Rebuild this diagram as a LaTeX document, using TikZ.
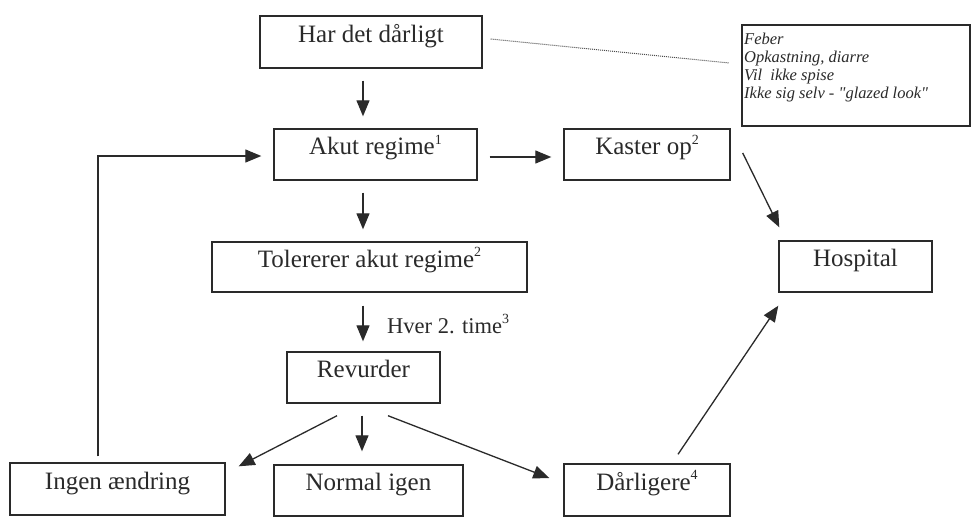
\documentclass[tikz,border=0pt]{standalone}
\usepackage{fontspec}
\setmainfont{Liberation Serif}
\newfontfamily\notefont[Ligatures=TeXOff]{Liberation Serif}
\usetikzlibrary{arrows.meta}
\definecolor{ink}{HTML}{2A2A2A}
\newcommand\sups[1]{\raisebox{0.42em}{\fontsize{14}{14}\selectfont #1}}
\begin{document}
\begin{tikzpicture}[x=1pt,y=-1pt,
  box/.style={draw=ink,line width=1.4pt,inner sep=0pt,text=ink,
    text height=9pt,text depth=9pt,font=\fontsize{25}{28}\selectfont},
  arr/.style={draw=ink,line width=1.3pt,-{Triangle[length=16pt,width=13pt]}},
  notetxt/.style={anchor=base west,inner sep=0pt,text=ink,font=\fontsize{16.5}{18}\notefont\itshape}]
\useasboundingbox[fill=white] (0,0) rectangle (974,531);
% boxes
\node[box,minimum width=222pt,minimum height=52pt] (har) at (371,42) {Har det dårligt};
\node[box,minimum width=228pt,minimum height=101pt,line width=1.2pt] (note) at (856,75.5) {};
\node[box,minimum width=203pt,minimum height=51pt] (akut) at (375.5,154.5) {Akut regime\sups{1}};
\node[box,minimum width=166pt,minimum height=51pt] (kaster) at (647,154.5) {Kaster op\sups{2}};
\node[box,minimum width=315pt,minimum height=50pt] (tol) at (369.5,267) {Tolererer akut regime\sups{2}};
\node[box,minimum width=153pt,minimum height=51pt] (hosp) at (855.5,266.5) {Hospital};
\node[box,minimum width=153pt,minimum height=51pt] (rev) at (363.5,377.5) {Revurder};
\node[box,minimum width=215pt,minimum height=52pt] (ingen) at (117.5,489) {Ingen ændring};
\node[box,minimum width=189pt,minimum height=51pt] (normal) at (368.5,490.5) {Normal igen};
\node[box,minimum width=166pt,minimum height=52pt] (darl) at (647,490) {Dårligere\sups{4}};
% note text
\node[notetxt] (n1) at (744,44) {Feber};
\node[notetxt] (n2) at (744,62) {Opkastning, diarre};
\node[notetxt] (n3) at (744,80) {Vil\ \ ikke spise};
\node[notetxt] (n4) at (744,98) {Ikke sig selv - "glazed look"};
% label
\node[anchor=base west,inner sep=0pt,text=ink,font=\fontsize{22.5}{26}\selectfont] (hver) at (387,333) {Hver 2. time\sups{3}};
% connectors
\draw[arr] ([shift={(-8,12)}]har.south) -- ([shift={(-12.5,-12)}]akut.north);
\draw[arr] ([shift={(-12.5,12)}]akut.south) -- ([shift={(-6.5,-12)}]tol.north);
\draw[arr] ([shift={(-6.5,13)}]tol.south) -- ([shift={(-0.5,-10)}]rev.north);
\draw[arr] ([shift={(12,2.5)}]akut.east) -- ([shift={(-12,2.5)}]kaster.west);
\draw[arr] ([shift={(12,-1.5)}]kaster.east) -- ([shift={(1,-13)}]hosp.north west);
\draw[arr] ([shift={(31,-9)}]darl.north) -- ([shift={(0,13)}]hosp.south west);
\draw[arr] ([shift={(-26.5,12)}]rev.south) -- ([shift={(13,4)}]ingen.north east);
\draw[arr] ([shift={(-1.5,12)}]rev.south) -- ([shift={(-6.5,-13)}]normal.north);
\draw[arr] ([shift={(24.5,12)}]rev.south) -- ([shift={(-14,-12)}]darl.west);
\draw[arr] ([shift={(-19.5,-6)}]ingen.north) |- ([shift={(-12,1.5)}]akut.west);
\draw[draw=ink!85,line width=1pt,dash pattern=on 1pt off 1pt] ([shift={(8,-3)}]har.east) -- ([shift={(-12,-12.5)}]note.west);
\end{tikzpicture}
\end{document}
